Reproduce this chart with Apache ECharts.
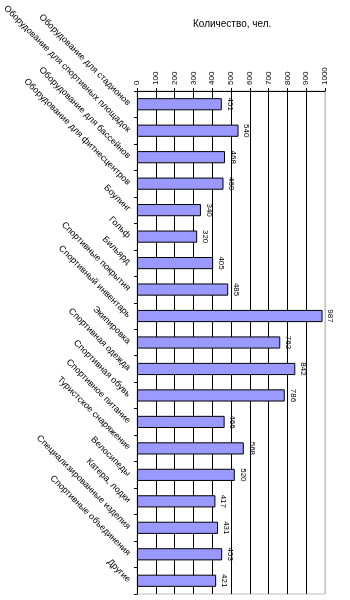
<!DOCTYPE html>
<html><head><meta charset="utf-8">
<script src="https://cdn.jsdelivr.net/npm/echarts@6/dist/echarts.min.js"></script>
<style>html,body{margin:0;padding:0;background:#fff}#c{width:350px;height:600px}</style>
</head><body><div id="c"></div>
<script>
const categories = [
  "Оборудование для стадионов",
  "Оборудование для спортивных площадок",
  "Оборудование для бассейнов",
  "Оборудование для фитнесцентров",
  "Боулинг",
  "Гольф",
  "Бильярд",
  "Спортивные покрытия",
  "Спортивный инвентарь",
  "Экипировка",
  "Спортивная одежда",
  "Спортивная обувь",
  "Спортивное питание",
  "Туристское снаряжение",
  "Велосипеды",
  "Катера, лодки",
  "Специализированные изделия",
  "Спортивные объединения",
  "Другие"
];
const values = [451, 540, 468, 460, 340, 320, 405, 485, 987, 762, 842, 786, 466, 568, 520, 417, 431, 453, 421];
const titleText = "Количество, чел.";
const axisMin = 0, axisMax = 1000, axisStep = 100;

const chart = echarts.init(document.getElementById('c'));
const nLines = (axisMax - axisMin) / axisStep + 1;
const splitColors = [];
for (let i = 0; i < nLines; i++) splitColors.push(i === nLines - 1 ? '#c0c0c0' : '#000');
chart.setOption({
  animation: false,
  title: {
    text: titleText, left: 188, top: 14,
    textStyle: {fontFamily: 'Liberation Sans', fontSize: 10, fontWeight: 'normal', color: '#000'}
  },
  grid: {left: 135, right: 25, top: 91, bottom: 6, show: true, borderColor: '#c0c0c0', borderWidth: 1, containLabel: false},
  xAxis: {
    type: 'value', position: 'top', min: axisMin, max: axisMax, interval: axisStep,
    axisLine: {show: true, lineStyle: {color: '#000', width: 1}},
    axisTick: {show: true, length: 3, lineStyle: {color: '#000'}},
    axisLabel: {rotate: -90, margin: 6, fontFamily: 'Liberation Sans', fontSize: 8, color: '#000',
      formatter: v => String(v)},
    splitLine: {show: true, lineStyle: {color: splitColors, width: 1}}
  },
  yAxis: {
    type: 'category', data: categories, inverse: true,
    axisLine: {show: true, lineStyle: {color: '#000', width: 1}},
    axisTick: {show: true, length: 3, lineStyle: {color: '#000'}},
    axisLabel: {rotate: -45, margin: 8, interval: 0, fontFamily: 'Liberation Sans', fontSize: 9, color: '#000'},
    splitLine: {show: false}
  },
  series: [{
    type: 'bar', data: values, barCategoryGap: '54%',
    itemStyle: {color: '#9999ff', borderColor: '#000', borderWidth: 1},
    label: {show: true, position: 'right', distance: 8, rotate: -90, align: 'center', verticalAlign: 'middle',
      fontFamily: 'Liberation Sans', fontSize: 8, color: '#000'}
  }]
});
</script></body></html>
